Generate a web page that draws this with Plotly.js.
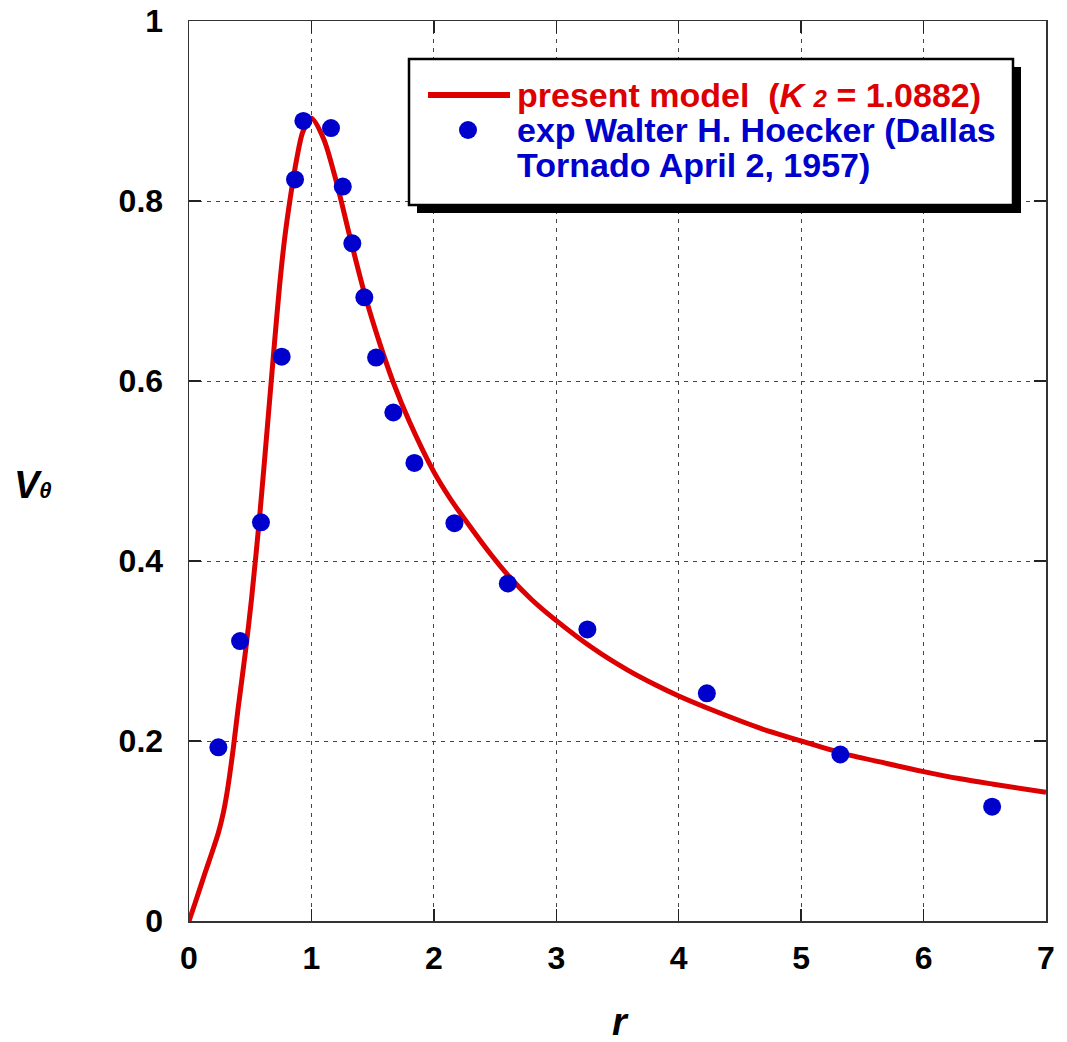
<!DOCTYPE html>
<html>
<head>
<meta charset="utf-8">
<script src="https://cdn.plot.ly/plotly-3.0.1.min.js"></script>
<style>
  html, body { margin: 0; padding: 0; background: #ffffff; }
  #chart { width: 1067px; height: 1042px; }
</style>
</head>
<body>
<div id="chart"></div>
<script>
// Tangential velocity profile: model curve vs. Dallas tornado measurements
const modelR = [0, 0.05, 0.13, 0.18, 0.24, 0.28, 0.31, 0.33, 0.36, 0.40, 0.46, 0.51, 0.58, 0.65, 0.70, 0.74, 0.78, 0.83, 0.88, 0.93, 1.00,
                1.10, 1.21, 1.32, 1.44, 1.56, 1.67, 1.80, 2.00, 2.13, 2.27, 2.45, 2.62, 2.80, 2.98, 3.30, 3.58, 3.80, 4.00, 4.30,
                4.67, 5.00, 5.35, 5.70, 6.00, 6.30, 6.57, 7.00];
const modelV = [0, 0.02, 0.053, 0.073, 0.098, 0.12, 0.142, 0.16, 0.19, 0.235, 0.298, 0.357, 0.454, 0.565, 0.645, 0.706, 0.757, 0.806, 0.847, 0.877, 0.892,
                0.869, 0.818, 0.757, 0.694, 0.641, 0.598, 0.555, 0.499, 0.470, 0.443, 0.410, 0.382, 0.357, 0.336, 0.303, 0.279, 0.263, 0.250, 0.233,
                0.214, 0.200, 0.186, 0.175, 0.166, 0.158, 0.152, 0.143];

const expR = [0.24, 0.417, 0.588, 0.757, 0.866, 0.934, 1.16, 1.256, 1.334, 1.432, 1.528, 1.669, 1.841, 2.168, 2.604, 3.254, 4.23, 5.32, 6.56];
const expV = [0.193, 0.311, 0.443, 0.627, 0.824, 0.889, 0.881, 0.816, 0.753, 0.693, 0.626, 0.565, 0.509, 0.442, 0.375, 0.324, 0.253, 0.185, 0.127];

const xTicks = [0, 1, 2, 3, 4, 5, 6, 7];
const xTickText = ['0', '1', '2', '3', '4', '5', '6', '7'];
const yTicks = [0, 0.2, 0.4, 0.6, 0.8, 1];
const yTickText = ['0', '0.2', '0.4', '0.6', '0.8', '1'];

const modelLabel = 'present model  (<i>K <span style="font-size:24px">2</span></i> = 1.0882)';
const expLabel1 = 'exp Walter H. Hoecker (Dallas';
const expLabel2 = 'Tornado April 2, 1957)';

const RED = '#dc0000';
const BLUE = '#0000cc';
const FONT = 'Liberation Sans, Arial, sans-serif';

// page geometry
const W = 1067, H = 1042;
const M = { l: 189, r: 21, t: 21, b: 121 };
const PW = W - M.l - M.r, PH = H - M.t - M.b;
const px = v => (v - M.l) / PW;      // page pixel x -> paper x
const py = v => (M.t + PH - v) / PH; // page pixel y -> paper y

const traces = [
  {
    x: modelR, y: modelV, mode: 'lines', type: 'scatter',
    line: { color: RED, width: 5, shape: 'spline', smoothing: 0.8 },
    showlegend: false, hoverinfo: 'skip'
  },
  {
    x: expR, y: expV, mode: 'markers', type: 'scatter',
    marker: { color: BLUE, size: 18 },
    showlegend: false, hoverinfo: 'skip'
  }
];

const axisCommon = {
  showline: true, linecolor: '#333', linewidth: 1.5, mirror: 'ticks',
  ticks: 'inside', ticklen: 12, tickcolor: '#222', tickwidth: 1.5,
  showgrid: true, gridcolor: '#444', gridwidth: 1, griddash: '4px,5px',
  zeroline: false,
  tickfont: { family: FONT, size: 32, color: '#000', weight: 'bold' },
  fixedrange: true
};

// hand-built legend box with drop shadow
const shapes = [
  { type: 'rect', xref: 'paper', yref: 'paper', layer: 'above',
    x0: px(417), x1: px(1021), y0: py(213), y1: py(67),
    fillcolor: '#000', line: { width: 0 } },
  { type: 'rect', xref: 'paper', yref: 'paper', layer: 'above',
    x0: px(409), x1: px(1013), y0: py(205), y1: py(59),
    fillcolor: '#fff', line: { color: '#000', width: 2.5 } },
  { type: 'line', xref: 'paper', yref: 'paper', layer: 'above',
    x0: px(428), x1: px(510), y0: py(95), y1: py(95),
    line: { color: RED, width: 6 } },
  { type: 'circle', xref: 'paper', yref: 'paper', layer: 'above',
    x0: px(459), x1: px(477), y0: py(139), y1: py(121),
    fillcolor: BLUE, line: { width: 0 } }
];

const legendFont = (c) => ({ family: FONT, size: 34, color: c, weight: 'bold' });

const annotations = [
  { xref: 'paper', yref: 'paper', x: px(515), y: py(95), xanchor: 'left', yanchor: 'middle',
    text: modelLabel, showarrow: false, font: legendFont(RED) },
  { xref: 'paper', yref: 'paper', x: px(515), y: py(130), xanchor: 'left', yanchor: 'middle',
    text: expLabel1, showarrow: false, font: legendFont(BLUE) },
  { xref: 'paper', yref: 'paper', x: px(515), y: py(165), xanchor: 'left', yanchor: 'middle',
    text: expLabel2, showarrow: false, font: legendFont(BLUE) },
  // axis titles
  { xref: 'paper', yref: 'paper', x: px(620), y: py(1022), xanchor: 'center', yanchor: 'middle',
    text: '<i>r</i>', showarrow: false, font: { family: FONT, size: 38, color: '#000', weight: 'bold' } },
  { xref: 'paper', yref: 'paper', x: px(12), y: py(485), xanchor: 'left', yanchor: 'middle',
    text: '<i>V<span style="font-size:22px">θ</span></i>', showarrow: false,
    font: { family: FONT, size: 38, color: '#000', weight: 'bold' } }
];

const layout = {
  width: W, height: H,
  margin: M,
  paper_bgcolor: '#fff', plot_bgcolor: '#fff',
  showlegend: false,
  xaxis: Object.assign({}, axisCommon, {
    range: [0, 7], tickvals: xTicks, ticktext: xTickText, ticklabelstandoff: 8
  }),
  yaxis: Object.assign({}, axisCommon, {
    range: [0, 1], tickvals: yTicks, ticktext: yTickText, ticklabelstandoff: 18
  }),
  shapes: shapes,
  annotations: annotations
};

Plotly.newPlot('chart', traces, layout, { staticPlot: true, displayModeBar: false });
</script>
</body>
</html>
